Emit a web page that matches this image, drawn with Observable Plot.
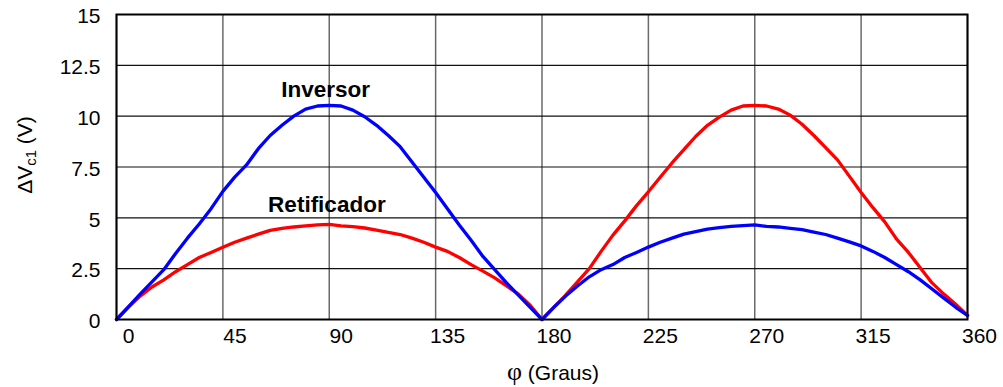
<!DOCTYPE html>
<html>
<head>
<meta charset="utf-8">
<script src="https://cdn.jsdelivr.net/npm/d3@7"></script>
<script src="https://cdn.jsdelivr.net/npm/@observablehq/plot@0.6"></script>
<style>
  html, body { margin: 0; padding: 0; background: #fff; }
  #chart svg { display: block; }
</style>
</head>
<body>
<div id="chart"></div>
<script>
const phi = [0,5,10,15,20,25,30,35,40,45,50,55,60,65,70,75,80,85,90,95,100,105,110,115,120,125,130,135,140,145,150,155,160,165,170,175,180,
  185,190,195,200,205,210,215,220,225,230,235,240,245,250,255,260,265,270,275,280,285,290,295,300,305,310,315,320,325,330,335,340,345,350,355,360];

const inversor = [0,0.62,1.25,1.85,2.45,3.25,4.0,4.7,5.45,6.3,7.0,7.6,8.4,9.05,9.55,10.0,10.35,10.5,10.53,10.5,10.3,9.97,9.55,9.05,8.5,7.75,7.0,6.25,5.45,4.65,3.9,3.1,2.45,1.8,1.2,0.6,0,
  0.6,1.15,1.65,2.1,2.45,2.7,3.05,3.3,3.56,3.8,4.0,4.2,4.32,4.45,4.52,4.58,4.62,4.65,4.58,4.55,4.48,4.42,4.3,4.18,4.0,3.82,3.62,3.35,3.05,2.7,2.35,1.95,1.5,1.05,0.6,0.2];

const retificador = [0,0.6,1.15,1.6,1.95,2.35,2.7,3.05,3.3,3.55,3.8,4.0,4.2,4.38,4.48,4.55,4.6,4.65,4.68,4.6,4.57,4.5,4.4,4.28,4.18,4.0,3.8,3.56,3.35,3.05,2.7,2.38,2.05,1.65,1.25,0.7,0,
  0.6,1.2,1.85,2.5,3.35,4.15,4.85,5.6,6.28,7.0,7.7,8.35,9.0,9.55,9.95,10.3,10.5,10.53,10.5,10.35,10.05,9.6,9.05,8.45,7.85,7.05,6.25,5.5,4.8,3.95,3.3,2.55,1.8,1.25,0.75,0.2];

const xTicks = [0,45,90,135,180,225,270,315,360];
const yTicks = [0,2.5,5,7.5,10,12.5,15];

const seriesNames = ["Inversor","Retificador"];
const seriesColors = ["#0000FF","#FF0000"];
const labelPos = [{x:88.5, y:11.3}, {x:89, y:5.65}];

const rows = [];
phi.forEach((p,i) => {
  rows.push({phi:p, v:retificador[i], s:"Retificador"});
});
phi.forEach((p,i) => {
  rows.push({phi:p, v:inversor[i], s:"Inversor"});
});
const labels = seriesNames.map((n,i) => ({name:n, x:labelPos[i].x, y:labelPos[i].y}));

const font = "'Liberation Sans', Arial, sans-serif";

const chart = Plot.plot({
  width: 1003,
  height: 387,
  marginLeft: 116,
  marginRight: 36,
  marginTop: 14,
  marginBottom: 68,
  style: {fontFamily: font, fontSize: "21px", color: "#000", background: "#fff"},
  x: {domain: [0, 360]},
  y: {domain: [0, 15]},
  color: {domain: seriesNames, range: seriesColors},
  marks: [
    Plot.gridX(xTicks, {stroke: "#6a6a6a", strokeOpacity: 1, strokeWidth: 1.5}),
    Plot.gridY(yTicks, {stroke: "#111", strokeOpacity: 1, strokeWidth: 1.2}),
    Plot.axisX(xTicks, {tickSize: 0, tickPadding: 9, dx: 12, label: null, fontSize: 21, tickFormat: d => String(d)}),
    Plot.axisY(yTicks, {tickSize: 0, tickPadding: 16, dy: 2, label: null, fontSize: 21, tickFormat: d => String(d)}),
    Plot.line(rows, {x: "phi", y: "v", z: "s", stroke: "s", strokeWidth: 3.3, strokeLinejoin: "round"}),
    Plot.frame({stroke: "#000", strokeWidth: 2}),
    Plot.text(labels, {x: "x", y: "y", text: "name", fontWeight: "bold", fontSize: 22.5, fill: "#000"})
  ]
});

const svg = d3.select(chart);
// y-axis label with subscript
const yl = svg.append("text")
  .attr("transform", "translate(32,155) rotate(-90)")
  .attr("text-anchor", "middle")
  .attr("font-family", font)
  .attr("font-size", 21)
  .attr("fill", "#000");
yl.append("tspan").text("ΔV");
yl.append("tspan").attr("font-size", 15).attr("dy", 4).text("c1");
yl.append("tspan").attr("dy", -4).text(" (V)");

// x-axis label
const xl = svg.append("text")
  .attr("x", 553)
  .attr("y", 380)
  .attr("text-anchor", "middle")
  .attr("font-family", font)
  .attr("font-size", 21)
  .attr("fill", "#000");
xl.append("tspan").attr("font-family", "'Liberation Serif', serif").attr("font-size", 26).text("φ");
xl.append("tspan").text(" (Graus)");

document.getElementById("chart").appendChild(chart);
</script>
</body>
</html>
